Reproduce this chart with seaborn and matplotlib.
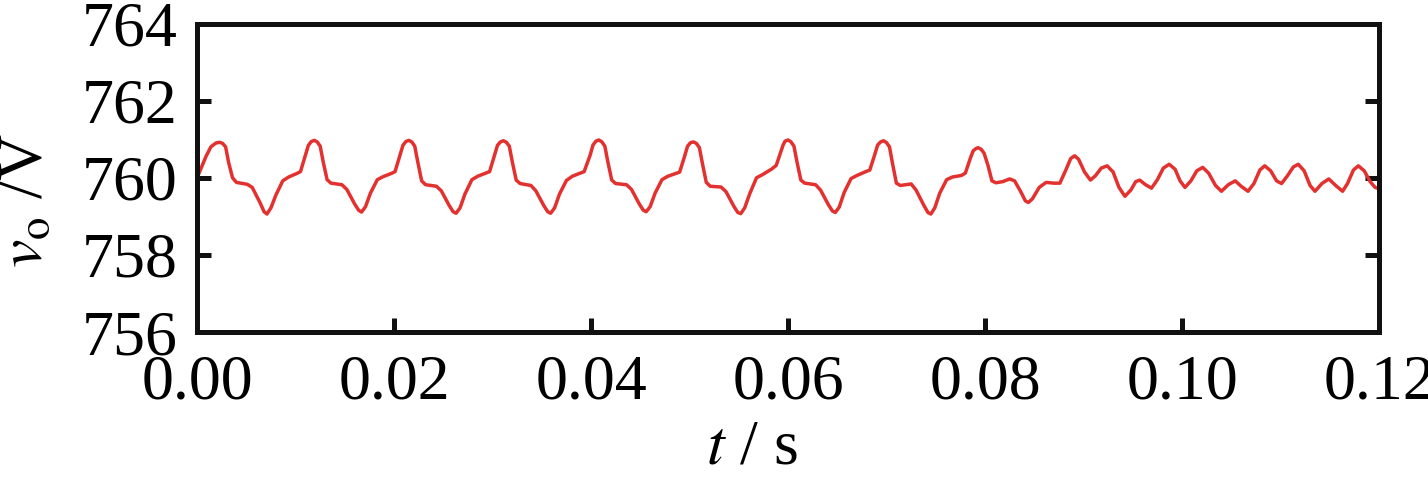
import seaborn as sns
import matplotlib.pyplot as plt

# Output voltage (time in s, voltage in V)
t = [0.0000, 0.0003, 0.0009, 0.0014, 0.0019, 0.0023, 0.0026, 0.0029, 0.0032, 0.0036, 0.0040, 0.0051,
     0.0056, 0.0064, 0.0068, 0.0071, 0.0075, 0.0080, 0.0087, 0.0093, 0.0102,
     0.0105, 0.0110, 0.0113, 0.0116, 0.0119, 0.0122, 0.0125, 0.0128, 0.0132, 0.0136, 0.0147,
     0.0152, 0.0160, 0.0164, 0.0167, 0.0171, 0.0176, 0.0183, 0.0189, 0.0198,
     0.0201, 0.0206, 0.0209, 0.0212, 0.0215, 0.0218, 0.0221, 0.0224, 0.0228, 0.0232, 0.0243,
     0.0248, 0.0256, 0.0260, 0.0263, 0.0267, 0.0272, 0.0279, 0.0285, 0.0294,
     0.0297, 0.0302, 0.0305, 0.0308, 0.0311, 0.0314, 0.0317, 0.0320, 0.0324, 0.0328, 0.0339,
     0.0344, 0.0352, 0.0356, 0.0359, 0.0363, 0.0368, 0.0375, 0.0381, 0.0390,
     0.0393, 0.0399, 0.0402, 0.0405, 0.0408, 0.0411, 0.0414, 0.0417, 0.0421, 0.0425, 0.0436,
     0.0441, 0.0449, 0.0453, 0.0456, 0.0460, 0.0465, 0.0472, 0.0478, 0.0487,
     0.0490, 0.0495, 0.0498, 0.0501, 0.0504, 0.0507, 0.0510, 0.0513, 0.0517, 0.0521, 0.0532,
     0.0537, 0.0545, 0.0549, 0.0552, 0.0556, 0.0561, 0.0568, 0.0574, 0.0583,
     0.0588, 0.0592, 0.0595, 0.0597, 0.0600, 0.0603, 0.0606, 0.0609, 0.0613, 0.0617, 0.0628,
     0.0633, 0.0641, 0.0645, 0.0648, 0.0652, 0.0657, 0.0664, 0.0670, 0.0679,
     0.0683, 0.0688, 0.0691, 0.0694, 0.0697, 0.0700, 0.0703, 0.0706, 0.0710, 0.0714, 0.0725,
     0.0730, 0.0738, 0.0742, 0.0745, 0.0749, 0.0754, 0.0761, 0.0767, 0.0776,
     0.0780, 0.0785, 0.0788, 0.0791, 0.0793, 0.0796, 0.0799, 0.0803, 0.0807, 0.0811, 0.0818,
     0.0825, 0.0830, 0.0836, 0.0841, 0.0844, 0.0848, 0.0855, 0.0862, 0.0870, 0.0876,
     0.0882, 0.0887, 0.0891, 0.0895, 0.0901, 0.0907, 0.0912, 0.0918, 0.0924, 0.0930, 0.0936,
     0.0942, 0.0948, 0.0953, 0.0957, 0.0963, 0.0969, 0.0975, 0.0981, 0.0987, 0.0993, 0.0998,
     0.1003, 0.1009, 0.1015, 0.1021, 0.1027, 0.1034, 0.1040, 0.1047, 0.1054, 0.1060, 0.1067,
     0.1073, 0.1079, 0.1084, 0.1090, 0.1096, 0.1101, 0.1107, 0.1113, 0.1118, 0.1124, 0.1130,
     0.1135, 0.1142, 0.1149, 0.1156, 0.1163, 0.1168, 0.1174, 0.1179, 0.1185, 0.1191, 0.1196,
     0.1200]
v = [760.00, 760.18, 760.55, 760.80, 760.90, 760.92, 760.89, 760.80, 760.40, 760.00, 759.88, 759.83,
     759.75, 759.35, 759.12, 759.06, 759.22, 759.55, 759.92, 760.02, 760.12,
     760.16, 760.58, 760.84, 760.94, 760.97, 760.93, 760.82, 760.42, 759.95, 759.86, 759.82,
     759.70, 759.32, 759.16, 759.11, 759.25, 759.60, 759.95, 760.03, 760.12,
     760.16, 760.58, 760.84, 760.94, 760.97, 760.93, 760.82, 760.42, 759.92, 759.82, 759.78,
     759.66, 759.28, 759.12, 759.08, 759.22, 759.58, 759.95, 760.04, 760.13,
     760.16, 760.58, 760.84, 760.93, 760.96, 760.92, 760.82, 760.42, 759.94, 759.85, 759.80,
     759.66, 759.28, 759.12, 759.08, 759.22, 759.58, 759.93, 760.04, 760.13,
     760.16, 760.58, 760.85, 760.95, 760.98, 760.93, 760.82, 760.42, 759.94, 759.85, 759.82,
     759.70, 759.32, 759.16, 759.12, 759.25, 759.60, 759.95, 760.04, 760.12,
     760.15, 760.56, 760.82, 760.91, 760.93, 760.89, 760.78, 760.38, 759.88, 759.78, 759.76,
     759.64, 759.26, 759.10, 759.07, 759.22, 759.58, 760.00, 760.08, 760.22,
     760.32, 760.62, 760.85, 760.95, 760.98, 760.93, 760.82, 760.42, 759.94, 759.86, 759.82,
     759.68, 759.30, 759.14, 759.10, 759.24, 759.62, 759.98, 760.06, 760.16,
     760.20, 760.60, 760.85, 760.93, 760.96, 760.91, 760.80, 760.38, 759.86, 759.80, 759.84,
     759.68, 759.28, 759.10, 759.06, 759.22, 759.60, 759.95, 760.02, 760.06,
     760.12, 760.50, 760.70, 760.76, 760.78, 760.74, 760.64, 760.32, 759.92, 759.87, 759.90,
     759.97, 759.92, 759.65, 759.40, 759.36, 759.45, 759.75, 759.88, 759.86, 759.86,
     760.20, 760.50, 760.57, 760.48, 760.15, 759.94, 760.05, 760.25, 760.31, 760.15, 759.75,
     759.52, 759.68, 759.90, 759.94, 759.82, 759.73, 759.95, 760.25, 760.35, 760.22, 759.92,
     759.75, 759.92, 760.18, 760.27, 760.12, 759.80, 759.65, 759.82, 759.92, 759.78, 759.65,
     759.85, 760.20, 760.31, 760.18, 759.92, 759.85, 760.05, 760.28, 760.35, 760.18, 759.80,
     759.65, 759.85, 759.97, 759.80, 759.65, 759.85, 760.20, 760.31, 760.18, 759.90, 759.75,
     759.72]

x_ticks = [0.00, 0.02, 0.04, 0.06, 0.08, 0.10, 0.12]
y_ticks = [756, 758, 760, 762, 764]

sns.set_style("ticks")
plt.rcParams['font.family'] = ['Liberation Serif', 'DejaVu Serif']
plt.rcParams['mathtext.fontset'] = 'stix'
plt.rcParams['text.color'] = 'black'
plt.rcParams['axes.labelcolor'] = 'black'
plt.rcParams['xtick.color'] = '#111111'
plt.rcParams['ytick.color'] = '#111111'

fig = plt.figure(figsize=(14.28, 4.8), dpi=100)
ax = fig.add_axes([0.138, 0.3083, 0.8277, 0.6427])

sns.lineplot(x=t, y=v, ax=ax, color='#e3312f', lw=2.5, errorbar=None)

ax.set_xlim(0, 0.12)
ax.set_ylim(756, 764)
ax.set_xticks(x_ticks)
ax.set_xticklabels([f"{x:.2f}" for x in x_ticks])
ax.set_yticks(y_ticks)

for s in ax.spines.values():
    s.set_linewidth(3.6)
    s.set_color('#111111')
    s.set_visible(True)

ax.tick_params(direction='in', length=10, width=3.6, labelsize=46,
               labelcolor='black', top=False, right=True)
ax.tick_params(axis='x', pad=16)
ax.tick_params(axis='y', pad=14)

ax.set_xlabel(r"$t$ / s", fontsize=46)
ax.xaxis.set_label_coords(0.4695, -0.285)
ax.set_ylabel(r"$v_{\mathrm{o}}$ /V", fontsize=46)
ax.yaxis.set_label_coords(-0.12, 0.425)

fig.savefig("out.png", dpi=100)
